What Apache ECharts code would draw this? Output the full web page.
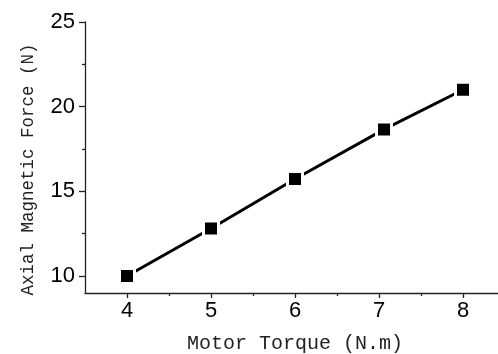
<!DOCTYPE html>
<html><head><meta charset="utf-8">
<script src="https://cdn.jsdelivr.net/npm/echarts@6/dist/echarts.min.js"></script>
<style>html,body{margin:0;padding:0;background:#fff}#c{width:498px;height:354px}</style>
</head><body><div id="c"></div>
<script>
var torque = [4, 5, 6, 7.06, 8];
var force = [10, 12.81, 15.73, 18.66, 21.0];
var xMajorTicks = [4, 5, 6, 7, 8];
var xMinorTicks = [4.5, 5.5, 6.5, 7.5];
var yMajorTicks = [10, 15, 20, 25];
var yMinorTicks = [12.5, 17.5, 22.5];
var xTitle = 'Motor Torque (N.m)';
var yTitle = 'Axial Magnetic Force (N)';

var axisColor = '#222';
var chart = echarts.init(document.getElementById('c'), null, {renderer: 'canvas'});
var pts = torque.map(function (t, i) { return [t, force[i]]; });
chart.setOption({
  animation: false,
  backgroundColor: '#fff',
  grid: {left: 85, top: 22, right: -7, bottom: 61, containLabel: false, outerBoundsMode: 'none'},
  xAxis: [{
    type: 'value', min: 3.5, max: 8.5,
    name: xTitle, nameLocation: 'middle', nameGap: 41,
    nameTextStyle: {fontFamily: 'Liberation Mono', fontSize: 20, color: '#222'},
    axisLine: {show: true, onZero: false, lineStyle: {color: axisColor, width: 1.3}},
    axisTick: {show: true, length: 5, customValues: xMajorTicks, lineStyle: {color: axisColor, width: 1.3}},
    axisLabel: {customValues: xMajorTicks, margin: 7, fontFamily: 'Liberation Sans', fontSize: 22, color: '#000'},
    splitLine: {show: false}
  }, {
    type: 'value', min: 3.5, max: 8.5, position: 'bottom', offset: 0,
    axisLine: {show: false},
    axisTick: {show: true, length: 3, customValues: xMinorTicks, lineStyle: {color: axisColor, width: 1.3}},
    axisLabel: {show: false}, splitLine: {show: false}
  }],
  yAxis: [{
    type: 'value', min: 9, max: 25,
    name: yTitle, nameLocation: 'middle', nameGap: 48,
    nameTextStyle: {fontFamily: 'Liberation Mono', fontSize: 17.5, color: '#222', padding: [0, 24, 0, 0]},
    axisLine: {show: true, onZero: false, lineStyle: {color: axisColor, width: 1.3}},
    axisTick: {show: true, length: 6, customValues: yMajorTicks, lineStyle: {color: axisColor, width: 1.3}},
    axisLabel: {customValues: yMajorTicks, margin: 10, fontFamily: 'Liberation Sans', fontSize: 22, color: '#000'},
    splitLine: {show: false}
  }, {
    type: 'value', min: 9, max: 25, position: 'left', offset: 0,
    axisLine: {show: false},
    axisTick: {show: true, length: 3, customValues: yMinorTicks, lineStyle: {color: axisColor, width: 1.3}},
    axisLabel: {show: false}, splitLine: {show: false}
  }],
  series: [{
    type: 'line', xAxisIndex: 0, yAxisIndex: 0,
    data: pts,
    symbol: 'rect', symbolSize: 15,
    lineStyle: {color: '#000', width: 3},
    itemStyle: {color: '#000', borderColor: '#fff', borderWidth: 3},
    z: 3
  }]
});
</script></body></html>
